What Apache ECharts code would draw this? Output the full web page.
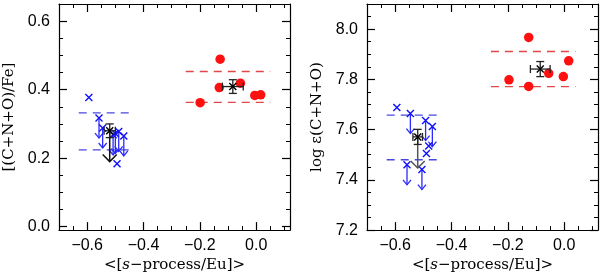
<!DOCTYPE html>
<html><head><meta charset="utf-8">
<script src="https://cdn.jsdelivr.net/npm/echarts@6/dist/echarts.min.js"></script>
<style>html,body{margin:0;padding:0;background:#fff}#c{width:600px;height:278px}</style>
</head><body><div id="c"></div>
<script>
// ---- data ----
const xMajor = [-0.6, -0.4, -0.2, 0.0];
const xMinor = [-0.7,-0.65,-0.6,-0.55,-0.5,-0.45,-0.4,-0.35,-0.3,-0.25,-0.2,-0.15,-0.1,-0.05,0,0.05,0.1];
const yLMajor = [0.0, 0.2, 0.4, 0.6];
const yLMinor = [0,0.05,0.1,0.15,0.2,0.25,0.3,0.35,0.4,0.45,0.5,0.55,0.6];
const yRMajor = [7.2, 7.4, 7.6, 7.8, 8.0];
const yRMinor = [7.2,7.25,7.3,7.35,7.4,7.45,7.5,7.55,7.6,7.65,7.7,7.75,7.8,7.85,7.9,7.95,8.0,8.05];

const leftRed = [[-0.128,0.489],[-0.131,0.406],[-0.056,0.419],[-0.199,0.362],[-0.005,0.383],[0.016,0.385]];
const leftBlueDet = [[-0.594,0.377],[-0.494,0.184]];
const leftBlueLim = [[-0.558,0.317],[-0.545,0.288],[-0.508,0.268],[-0.500,0.272],[-0.488,0.278],[-0.470,0.265]];
const leftBlueMean = [[-0.52,0.28,0.02,0.02]];
const leftBlueMeanLim = [[-0.52,0.28,0.19]];
const leftRedMean = [[-0.083,0.409,0.037,0.02]];
const leftRedBand = [[-0.25,0.05,0.363],[-0.25,0.05,0.453]];
const leftBlueBand = [[-0.63,-0.45,0.224],[-0.63,-0.45,0.332]];

const rightRed = [[-0.126,7.967],[-0.196,7.798],[-0.126,7.772],[-0.055,7.824],[-0.003,7.811],[0.016,7.874]];
const rightBlueDet = [[-0.594,7.688],[-0.481,7.535],[-0.489,7.505]];
const rightBlueLim = [[-0.546,7.664],[-0.492,7.636],[-0.468,7.612],[-0.558,7.46],[-0.505,7.441]];
const rightBlueMean = [[-0.52,7.571,0.017,0.03]];
const rightBlueMeanLim = [[-0.52,7.571,7.447]];
const rightRedMean = [[-0.085,7.841,0.035,0.03]];
const rightRedBand = [[-0.26,0.04,7.771],[-0.26,0.04,7.911]];
const rightBlueBand = [[-0.63,-0.45,7.48],[-0.63,-0.45,7.658]];

// ---- styling ----
const RED = '#ff1010', BLUE = '#1010ff';
const tickFont = {fontFamily:'Liberation Sans', fontSize:16, color:'#000'};
const titleFont = {fontFamily:'DejaVu Serif', fontSize:15, color:'#000'};
const fmt = v => { const r = Math.round(v*10)/10; return (r<0?'\u2212':'') + Math.abs(r).toFixed(1); };

function xAxes(gi, majors, minors, withName) {
  const base = {type:'value', gridIndex:gi, min:-0.7, max:0.12, splitLine:{show:false}};
  return [
    Object.assign({}, base, {position:'bottom',
      axisLine:{show:true, onZero:false, lineStyle:{color:'#000', width:1.2}},
      axisTick:{show:true, inside:true, length:8, customValues:majors, lineStyle:{color:'#000', width:1.2}},
      axisLabel:{show:true, customValues:majors, formatter:fmt, margin:7, ...tickFont},
      name: withName, nameLocation:'middle', nameGap:21,
      nameTextStyle:{...titleFont, rich:{i:{...titleFont, fontStyle:'italic'}}}}),
    Object.assign({}, base, {position:'bottom',
      axisLine:{show:false, onZero:false}, axisLabel:{show:false},
      axisTick:{show:true, inside:true, length:4, customValues:minors, lineStyle:{color:'#000', width:1}}}),
    Object.assign({}, base, {position:'top',
      axisLine:{show:true, onZero:false, lineStyle:{color:'#000', width:1.2}}, axisLabel:{show:false},
      axisTick:{show:true, inside:true, length:8, customValues:majors, lineStyle:{color:'#000', width:1.2}}}),
    Object.assign({}, base, {position:'top',
      axisLine:{show:false, onZero:false}, axisLabel:{show:false},
      axisTick:{show:true, inside:true, length:4, customValues:minors, lineStyle:{color:'#000', width:1}}})
  ];
}
function yAxes(gi, min, max, majors, minors, name) {
  const base = {type:'value', gridIndex:gi, min:min, max:max, splitLine:{show:false}};
  return [
    Object.assign({}, base, {position:'left',
      axisLine:{show:true, onZero:false, lineStyle:{color:'#000', width:1.2}},
      axisTick:{show:true, inside:true, length:8, customValues:majors, lineStyle:{color:'#000', width:1.2}},
      axisLabel:{show:true, customValues:majors, formatter:fmt, margin:9, ...tickFont},
      name:name, nameLocation:'middle', nameGap:42, nameRotate:90, nameTextStyle:{...titleFont}}),
    Object.assign({}, base, {position:'left',
      axisLine:{show:false, onZero:false}, axisLabel:{show:false},
      axisTick:{show:true, inside:true, length:4, customValues:minors, lineStyle:{color:'#000', width:1}}}),
    Object.assign({}, base, {position:'right',
      axisLine:{show:true, onZero:false, lineStyle:{color:'#000', width:1.2}}, axisLabel:{show:false},
      axisTick:{show:true, inside:true, length:8, customValues:majors, lineStyle:{color:'#000', width:1.2}}}),
    Object.assign({}, base, {position:'right',
      axisLine:{show:false, onZero:false}, axisLabel:{show:false},
      axisTick:{show:true, inside:true, length:4, customValues:minors, lineStyle:{color:'#000', width:1}}})
  ];
}

const CROSS = 'path://M0,0L10,10M10,0L0,10';

function bandSeries(ai, band, color) {
  return band.map(b => ({
    type:'line', xAxisIndex:ai, yAxisIndex:ai, symbol:'none', silent:true,
    data:[[b[0], b[2]], [b[1], b[2]]],
    lineStyle:{color:color, width:1.3, type:[8,6]}, z:1
  }));
}
function limSeries(ai, data, color) {
  return {
    type:'custom', xAxisIndex:ai, yAxisIndex:ai, data:data, z:3,
    renderItem:(params, api) => {
      const p = api.coord([api.value(0), api.value(1)]);
      const L = 20;
      return {type:'group', children:[
        {type:'line', shape:{x1:p[0], y1:p[1], x2:p[0], y2:p[1]+L}, style:{stroke:color, lineWidth:1.3}},
        {type:'polyline', shape:{points:[[p[0]-4,p[1]+L-5],[p[0],p[1]+L],[p[0]+4,p[1]+L-5]]}, style:{stroke:color, fill:null, lineWidth:1.3}}
      ]};
    }
  };
}
function meanLimSeries(ai, data, color) {
  return {
    type:'custom', xAxisIndex:ai, yAxisIndex:ai, data:data, z:4,
    renderItem:(params, api) => {
      const p = api.coord([api.value(0), api.value(1)]);
      const q = api.coord([api.value(0), api.value(2)]);
      return {type:'group', children:[
        {type:'line', shape:{x1:p[0], y1:p[1], x2:q[0], y2:q[1]}, style:{stroke:color, lineWidth:1.5}},
        {type:'polyline', shape:{points:[[q[0]-7,q[1]-7],[q[0],q[1]],[q[0]+7,q[1]-7]]}, style:{stroke:color, fill:null, lineWidth:1.5}}
      ]};
    }
  };
}
function errSeries(ai, data) {
  return {
    type:'custom', xAxisIndex:ai, yAxisIndex:ai, data:data, z:5,
    renderItem:(params, api) => {
      const x = api.value(0), y = api.value(1), ex = api.value(2), ey = api.value(3);
      const l = api.coord([x-ex, y]), r = api.coord([x+ex, y]);
      const t = api.coord([x, y+ey]), b = api.coord([x, y-ey]);
      const st = {stroke:'#222', lineWidth:1.3};
      const c = 4;
      return {type:'group', children:[
        {type:'line', shape:{x1:l[0], y1:l[1], x2:r[0], y2:r[1]}, style:st},
        {type:'line', shape:{x1:l[0], y1:l[1]-c, x2:l[0], y2:l[1]+c}, style:st},
        {type:'line', shape:{x1:r[0], y1:r[1]-c, x2:r[0], y2:r[1]+c}, style:st},
        {type:'line', shape:{x1:t[0], y1:t[1], x2:b[0], y2:b[1]}, style:st},
        {type:'line', shape:{x1:t[0]-c, y1:t[1], x2:t[0]+c, y2:t[1]}, style:st},
        {type:'line', shape:{x1:b[0]-c, y1:b[1], x2:b[0]+c, y2:b[1]}, style:st}
      ]};
    }
  };
}
function crossSeries(ai, data, color, size, z) {
  return {type:'scatter', xAxisIndex:ai, yAxisIndex:ai, data:data.map(d=>[d[0],d[1]]),
    symbol:CROSS, symbolSize:size, z:z,
    itemStyle:{color:'rgba(0,0,0,0)', borderColor:color, borderWidth:1.4, opacity:1}};
}
function dotSeries(ai, data) {
  return {type:'scatter', xAxisIndex:ai, yAxisIndex:ai, data:data, symbol:'circle', symbolSize:9.5, z:2,
    itemStyle:{color:RED, opacity:1}};
}

const L = 0, R = 4;
const option = {
  animation:false,
  grid:[
    {left:59, top:4, width:231, height:230},
    {left:367, top:4, width:231, height:230}
  ],
  xAxis:[...xAxes(0, xMajor, xMinor, '<[{i|s}\u2212process/Eu]>'), ...xAxes(1, xMajor, xMinor, '<[{i|s}\u2212process/Eu]>')],
  yAxis:[...yAxes(0, -0.01, 0.65, yLMajor, yLMinor, '[(C+N+O)/Fe]'), ...yAxes(1, 7.2, 8.1, yRMajor, yRMinor, 'log \u03B5(C+N+O)')],
  series:[
    ...bandSeries(L, leftRedBand, '#e04848'),
    ...bandSeries(L, leftBlueBand, '#4848e0'),
    dotSeries(L, leftRed),
    limSeries(L, leftBlueLim, '#2a2aff'),
    crossSeries(L, leftBlueDet.concat(leftBlueLim), BLUE, 7, 3),
    meanLimSeries(L, leftBlueMeanLim, '#111'),
    errSeries(L, leftBlueMean),
    errSeries(L, leftRedMean),
    crossSeries(L, leftBlueMean.concat(leftRedMean), '#000', 7, 6),

    ...bandSeries(R, rightRedBand, '#e04848'),
    ...bandSeries(R, rightBlueBand, '#4848e0'),
    dotSeries(R, rightRed),
    limSeries(R, rightBlueLim, '#2a2aff'),
    crossSeries(R, rightBlueDet.concat(rightBlueLim), BLUE, 7, 3),
    meanLimSeries(R, rightBlueMeanLim, '#555'),
    errSeries(R, rightBlueMean),
    errSeries(R, rightRedMean),
    crossSeries(R, rightBlueMean.concat(rightRedMean), '#000', 7, 6)
  ]
};
const chart = echarts.init(document.getElementById('c'), null, {renderer:'canvas'});
chart.setOption(option);
</script></body></html>
